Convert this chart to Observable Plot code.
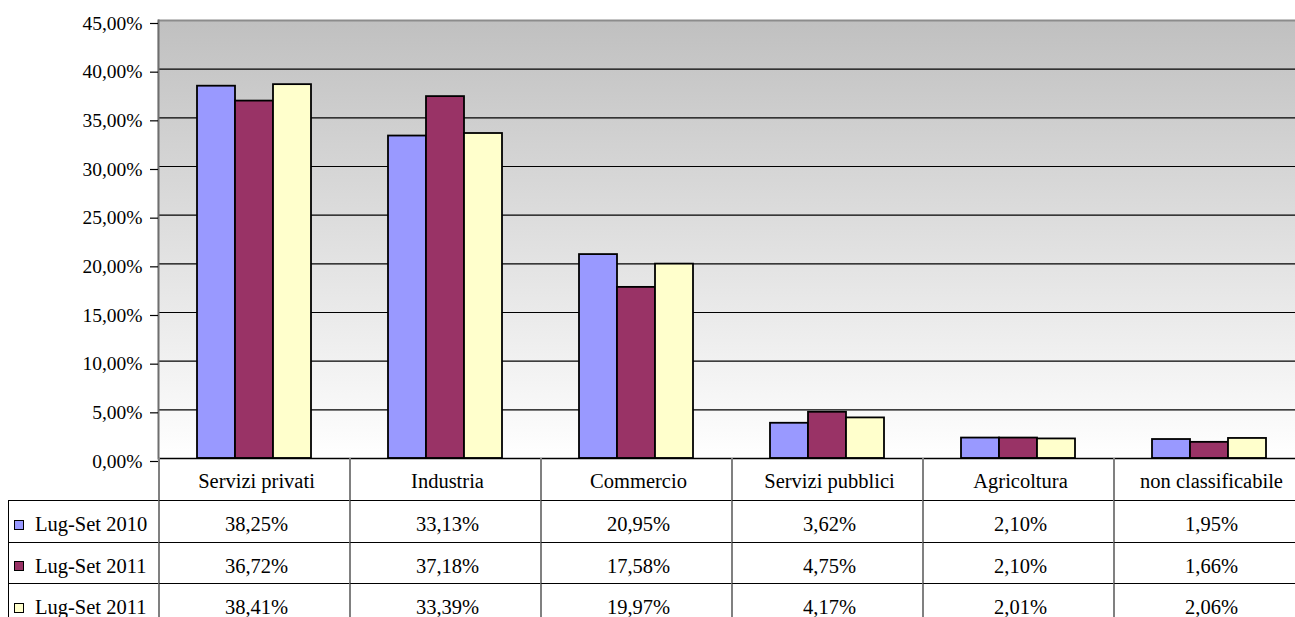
<!DOCTYPE html>
<html>
<head>
<meta charset="utf-8">
<script src="https://cdn.jsdelivr.net/npm/d3@7"></script>
<script src="https://cdn.jsdelivr.net/npm/@observablehq/plot@0.6"></script>
<style>
  html, body { margin: 0; padding: 0; background: #ffffff; overflow: hidden; }
  #wrap { position: relative; width: 1295px; height: 617px; overflow: hidden; font-family: "Liberation Serif", "DejaVu Serif", serif; color: #000; }
  #wrap svg { max-width: none !important; position: absolute; left: 0; top: 0; }
  .cell { position: absolute; box-sizing: border-box; display: flex; align-items: center; justify-content: center; font-size: 20.5px; white-space: nowrap; }
  .lab { justify-content: flex-start; }
  .sw { display: inline-block; width: 10px; height: 10px; box-sizing: border-box; border: 1.5px solid #000; margin-left: 5px; margin-right: 11px; }
</style>
</head>
<body>
<div id="wrap"></div>
<script>
const categories = ["Servizi privati", "Industria", "Commercio", "Servizi pubblici", "Agricoltura", "non classificabile"];
const seriesLabels = ["Lug-Set 2010", "Lug-Set 2011", "Lug-Set 2011"];
const seriesKeys = ["s0", "s1", "s2"];
const seriesColors = ["#9999ff", "#993366", "#ffffcc"];
const valuesLugSet2010 = [38.25, 33.13, 20.95, 3.62, 2.10, 1.95];
const valuesLugSet2011a = [36.72, 37.18, 17.58, 4.75, 2.10, 1.66];
const valuesLugSet2011b = [38.41, 33.39, 19.97, 4.17, 2.01, 2.06];
const yTicks = [0, 5, 10, 15, 20, 25, 30, 35, 40, 45];

const seriesValues = [valuesLugSet2010, valuesLugSet2011a, valuesLugSet2011b];
const fmt = v => v.toFixed(2).replace(".", ",") + "%";

const rows = categories.flatMap((c, i) => seriesKeys.map((k, s) => ({category: c, series: k, value: seriesValues[s][i]})));

const chart = Plot.plot({
  width: 1304,
  height: 480,
  marginLeft: 157,
  marginRight: 0,
  marginTop: 20,
  marginBottom: 22,
  style: {fontFamily: "Liberation Serif", fontSize: "19.5px", color: "#000", background: "transparent"},
  fx: {domain: categories, padding: 0, axis: null, label: null},
  x: {domain: seriesKeys, paddingInner: 0, paddingOuter: 0.97, axis: null},
  y: {domain: [0, 45], label: null},
  color: {domain: seriesKeys, range: seriesColors},
  marks: [
    Plot.frame({fill: "url(#bgGrad)", stroke: "none", insetLeft: -1, insetRight: -1}),
    Plot.ruleY(yTicks.filter(t => t > 0 && t < 45), {stroke: "#000", strokeWidth: 1.2}),
    Plot.ruleY([45], {stroke: "#8c8c8c", strokeWidth: 2}),
    Plot.barY(rows, {fx: "category", x: "series", y: "value", fill: "series", stroke: "#000", strokeWidth: 1.8}),
    Plot.ruleY([0], {stroke: "#000", strokeWidth: 1.5}),
    Plot.frame({anchor: "left", facetAnchor: "left", stroke: "#6e6e6e", strokeWidth: 2}),
    Plot.axisY({ticks: yTicks, tickFormat: fmt, tickSize: 8, tickPadding: 8, dy: 3, label: null, stroke: "#000", fill: "#000", strokeWidth: 1.2, fontSize: 19.5})
  ]
});

// gradient background definition
const svg = d3.select(chart);
const defs = svg.insert("defs", ":first-child");
const grad = defs.append("linearGradient").attr("id", "bgGrad").attr("x1", 0).attr("y1", 0).attr("x2", 0).attr("y2", 1);
grad.append("stop").attr("offset", 0).attr("stop-color", "#c0c0c0");
grad.append("stop").attr("offset", 1).attr("stop-color", "#ffffff");

const wrap = document.getElementById("wrap");
wrap.appendChild(chart);

// data table aligned with the fx scale
const fx = chart.scale("fx");
const bw = fx.bandwidth;
const tableTop = 458;
const headerH = 42;
const rowH = 41.5;
const labelLeft = 8;
const firstLeft = fx.apply(categories[0]);

function cell(html, left, top, width, height, css) {
  const d = document.createElement("div");
  d.className = "cell";
  d.style.left = left + "px";
  d.style.top = top + "px";
  d.style.width = width + "px";
  d.style.height = height + "px";
  Object.assign(d.style, css || {});
  d.innerHTML = html;
  wrap.appendChild(d);
  return d;
}

categories.forEach(c => {
  cell(c, fx.apply(c), tableTop, bw + 2, headerH, {borderLeft: "2px solid #808080", paddingTop: "4px", paddingLeft: "2px"});
});

seriesLabels.forEach((lab, s) => {
  const top = tableTop + headerH + s * rowH;
  const d = cell(`<span class="sw" style="background:${seriesColors[s]}"></span>${lab}`, labelLeft, top, firstLeft - labelLeft, rowH,
    {borderLeft: "1.5px solid #000", borderTop: "1.5px solid #000", paddingTop: "7px"});
  d.classList.add("lab");
  categories.forEach((c, i) => {
    cell(fmt(seriesValues[s][i]), fx.apply(c), top, bw + 2, rowH,
      {borderLeft: "2px solid #808080", borderTop: "1.5px solid #000", paddingTop: "7px", paddingLeft: "2px"});
  });
});
</script>
</body>
</html>
